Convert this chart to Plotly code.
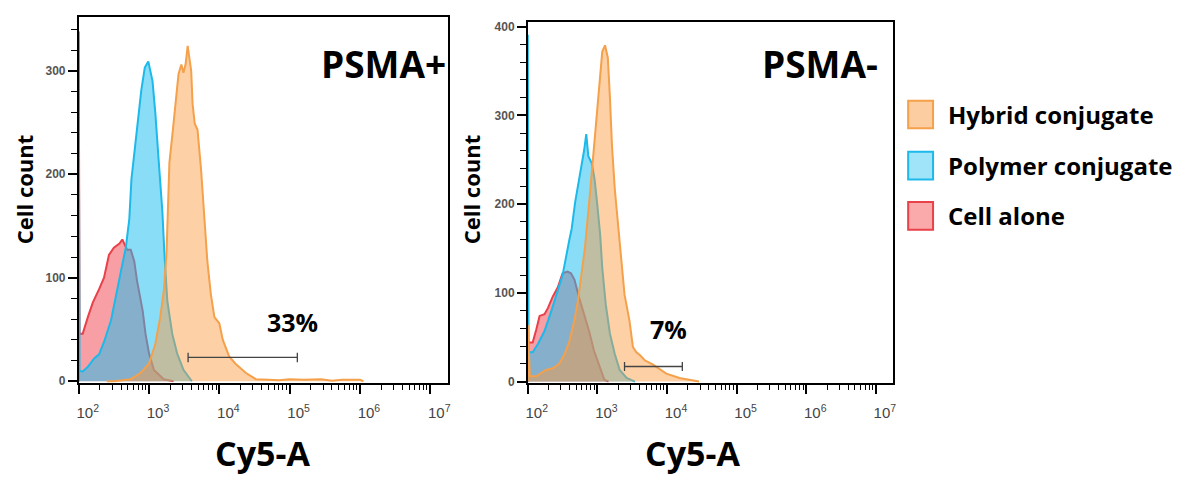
import plotly.graph_objects as go

# ---------------- data (x as log10 of Cy5-A intensity, y as cell count) ----------------
# PSMA+ panel
pos_cell_logx = [2.0, 2.0, 2.012, 2.057, 2.13, 2.20, 2.29, 2.36, 2.43, 2.50, 2.58, 2.62, 2.69, 2.74,
                 2.79, 2.83, 2.91, 2.95, 3.00, 3.07, 3.21, 3.35]
pos_cell_count = [0, 338, 46, 46, 62, 76, 89, 100, 122, 129, 133, 137, 127, 127,
                  116, 97, 68, 46, 27, 11, 2, 0]

pos_poly_logx = [2.0, 2.0, 2.012, 2.057, 2.13, 2.22, 2.29, 2.36, 2.46, 2.53, 2.60, 2.67, 2.72, 2.75,
                 2.82, 2.89, 2.94, 2.99, 3.05, 3.09, 3.14, 3.19, 3.22, 3.26, 3.33, 3.40, 3.49, 3.61]
pos_poly_count = [0, 300, 10, 9.5, 14, 22, 26, 38, 59, 81, 106, 129, 157, 195,
                  236, 281, 303, 309, 290, 259, 211, 164, 122, 78, 46, 27, 11, 0]

pos_hyb_logx = [2.40, 2.50, 2.74, 2.88, 3.00, 3.09, 3.16, 3.21, 3.25, 3.29, 3.34, 3.39, 3.42, 3.46,
                3.49, 3.52, 3.55, 3.60, 3.62, 3.65, 3.69, 3.74, 3.79, 3.83, 3.88, 3.93, 4.00, 4.05,
                4.14, 4.23, 4.38, 4.52, 4.70, 4.85, 5.00, 5.20, 5.45, 5.60, 5.75, 6.00, 6.05]
pos_hyb_count = [0, 0, 2, 8, 17, 36, 62, 87, 125, 211, 243, 275, 297, 306,
                 298, 306, 324, 300, 268, 249, 243, 205, 160, 116, 84, 62, 56, 40,
                 24, 17, 8, 2, 1.5, 1, 2, 1.5, 2, 0.5, 1.5, 1.5, 0]

# PSMA- panel
neg_cell_logx = [2.0, 2.0, 2.012, 2.07, 2.12, 2.17, 2.24, 2.29, 2.36, 2.43, 2.50, 2.57, 2.62, 2.67,
                 2.74, 2.81, 2.88, 2.95, 3.03, 3.10, 3.16]
neg_cell_count = [0, 45, 44, 44, 58, 74, 76, 83, 96, 106, 122, 124, 122, 115,
                  94, 76, 57, 35, 17, 2, 0]

neg_poly_logx = [2.0, 2.0, 2.012, 2.07, 2.15, 2.24, 2.34, 2.43, 2.50, 2.60, 2.63, 2.68, 2.73, 2.77,
                 2.81, 2.84, 2.87, 2.92, 2.96, 3.00, 3.04, 3.07, 3.12, 3.18, 3.25, 3.32, 3.42, 3.54]
neg_poly_count = [0, 391, 33, 33, 43, 57, 80, 102, 120, 161, 172, 202, 224, 239,
                  261, 279, 254, 246, 228, 198, 165, 128, 87, 54, 31, 13, 4, 0]

neg_hyb_logx = [2.0, 2.0, 2.03, 2.12, 2.26, 2.36, 2.45, 2.53, 2.60, 2.67, 2.72, 2.76, 2.82, 2.89,
                2.96, 3.02, 3.07, 3.11, 3.15, 3.18, 3.21, 3.25, 3.30, 3.35, 3.39, 3.46, 3.51,
                3.56, 3.61, 3.68, 3.80, 3.99, 4.18, 4.46]
neg_hyb_count = [0, 64, 6, 6, 13, 15, 20, 31, 46, 69, 91, 117, 150, 209,
                 272, 320, 372, 379, 365, 320, 265, 217, 172, 135, 98, 69, 39,
                 33, 30, 24, 19, 9, 4, 0]

series_names = ["Hybrid conjugate", "Polymer conjugate", "Cell alone"]
gate_pct = ["33%", "7%"]
pos_gate_logx = [3.556, 5.11]
neg_gate_logx = [3.39, 4.22]
pos_gate_y = 23
neg_gate_y = 17
panel_titles = ["PSMA+", "PSMA-"]
decade_exps = [2, 3, 4, 5, 6, 7]

# ---------------- styles ----------------
RED_L, RED_F = "#e8414a", "rgba(240,70,80,0.52)"
BLU_L, BLU_F = "#1cb9ea", "rgba(30,190,240,0.52)"
ORA_L, ORA_F = "#f5a04a", "rgba(250,155,65,0.47)"
FONT = "Open Sans"

# page body has an 8px margin: figure pixel = screen pixel - 8
OFF = 8
W, H = 1184 - OFF, 477 - OFF


def px(x):
    return (x - OFF) / W


def py(y):
    return (H - (y - OFF)) / H


fig = go.Figure()


def add_panel(xa, ya, cell, poly, hyb):
    for (lx, cnt), lc, fc, nm in [(cell, RED_L, RED_F, "Cell alone"),
                                  (poly, BLU_L, BLU_F, "Polymer conjugate"),
                                  (hyb, ORA_L, ORA_F, "Hybrid conjugate")]:
        fig.add_trace(go.Scatter(
            x=[10 ** v for v in lx], y=cnt, mode="lines", name=nm,
            line=dict(color=lc, width=2), fill="tozeroy", fillcolor=fc,
            xaxis=xa, yaxis=ya, showlegend=False, hoverinfo="skip"))


add_panel("x", "y", (pos_cell_logx, pos_cell_count), (pos_poly_logx, pos_poly_count),
          (pos_hyb_logx, pos_hyb_count))
add_panel("x2", "y2", (neg_cell_logx, neg_cell_count), (neg_poly_logx, neg_poly_count),
          (neg_hyb_logx, neg_hyb_count))

# gate brackets
for xa, ya, g, gy, h in [("x", "y", pos_gate_logx, pos_gate_y, 4.5),
                         ("x2", "y2", neg_gate_logx, neg_gate_y, 5.0)]:
    a, b = 10 ** g[0], 10 ** g[1]
    fig.add_trace(go.Scatter(
        x=[a, a, None, a, b, None, b, b],
        y=[gy - h, gy + h, None, gy, gy, None, gy - h, gy + h],
        mode="lines", line=dict(color="#444444", width=1.3),
        xaxis=xa, yaxis=ya, showlegend=False, hoverinfo="skip"))

minor_vals = [k * 10 ** n for n in range(2, 7) for k in range(2, 10)]
tick_vals = [10 ** e for e in decade_exps]
tick_text = [f"10<sup>{e}</sup>" for e in decade_exps]

xcommon = dict(type="log", tickmode="array", tickvals=tick_vals, ticktext=tick_text,
               ticks="outside", ticklen=9, tickwidth=2, tickcolor="black",
               showline=True, linecolor="black", linewidth=1.5, mirror=True,
               showgrid=False, zeroline=False, ticklabelshift=9, ticklabelstandoff=6,
               tickfont=dict(family="Liberation Sans", size=15, color="#444444"),
               minor=dict(tickmode="array", tickvals=minor_vals, ticks="outside",
                          ticklen=5, tickwidth=1.2, tickcolor="black", showgrid=False))
ycommon = dict(ticks="outside", ticklen=9, tickwidth=2, tickcolor="black",
               showline=True, linecolor="black", linewidth=1.5, mirror=True,
               showgrid=False, zeroline=False, dtick=100,
               tickfont=dict(family="Liberation Sans", size=12, color="#555555", weight="bold"),
               minor=dict(dtick=20, ticks="outside", ticklen=6, tickwidth=1.2,
                          tickcolor="black", showgrid=False))

fig.update_layout(
    width=W, height=H, margin=dict(l=0, r=0, t=0, b=0),
    paper_bgcolor="white", plot_bgcolor="white", showlegend=False,
    xaxis=dict(domain=[px(77), px(448)], range=[2.0, 7.255], anchor="y", **xcommon),
    yaxis=dict(domain=[py(387), py(15)], range=[-2, 352], anchor="x", **ycommon),
    xaxis2=dict(domain=[px(528), px(895)], range=[2.0, 7.25], anchor="y2", **xcommon),
    yaxis2=dict(domain=[py(387), py(20)], range=[-2, 405.5], anchor="x2", **ycommon),
)

ann = []
# panel titles
for t, cx in [(panel_titles[0], 383), (panel_titles[1], 821)]:
    ann.append(dict(text=f"<b>{t}</b>", x=px(cx), y=py(62), xref="paper", yref="paper",
                    showarrow=False, xanchor="center", yanchor="middle",
                    font=dict(family=FONT, size=37, color="black")))
# axis titles
for cx in [262, 693]:
    ann.append(dict(text="<b>Cy5-A</b>", x=px(cx), y=py(458), xref="paper", yref="paper",
                    showarrow=False, xanchor="center", yanchor="middle",
                    font=dict(family=FONT, size=34, color="black")))
for cx in [22, 471]:
    ann.append(dict(text="<b>Cell count</b>", x=px(cx), y=py(190), xref="paper",
                    yref="paper", showarrow=False, textangle=-90, xanchor="center",
                    yanchor="middle", font=dict(family=FONT, size=22, color="black")))
# gate labels
ann.append(dict(text=f"<b>{gate_pct[0]}</b>", x=px(264), y=py(344), xref="paper",
                yref="paper", showarrow=False, font=dict(family=FONT, size=25, color="black")))
ann.append(dict(text=f"<b>{gate_pct[1]}</b>", x=px(669), y=py(351), xref="paper",
                yref="paper", showarrow=False, font=dict(family=FONT, size=25, color="black")))

# manual legend
shapes = []
leg_items = [(series_names[0], "rgba(252,205,160,1)", ORA_L, 114),
             (series_names[1], "rgba(160,228,250,1)", BLU_L, 166),
             (series_names[2], "rgba(250,170,170,1)", RED_L, 217)]
for name, fc, lc, cy in leg_items:
    shapes.append(dict(type="rect", xref="paper", yref="paper",
                       x0=px(910), x1=px(935), y0=py(cy + 14), y1=py(cy - 14),
                       fillcolor=fc, line=dict(color=lc, width=2)))
    ann.append(dict(text=f"<b>{name}</b>", x=px(948), y=py(cy), xref="paper",
                    yref="paper", showarrow=False, xanchor="left", yanchor="middle",
                    font=dict(family=FONT, size=24, color="black")))

fig.update_layout(annotations=ann, shapes=shapes)
fig.write_html("out.html")
